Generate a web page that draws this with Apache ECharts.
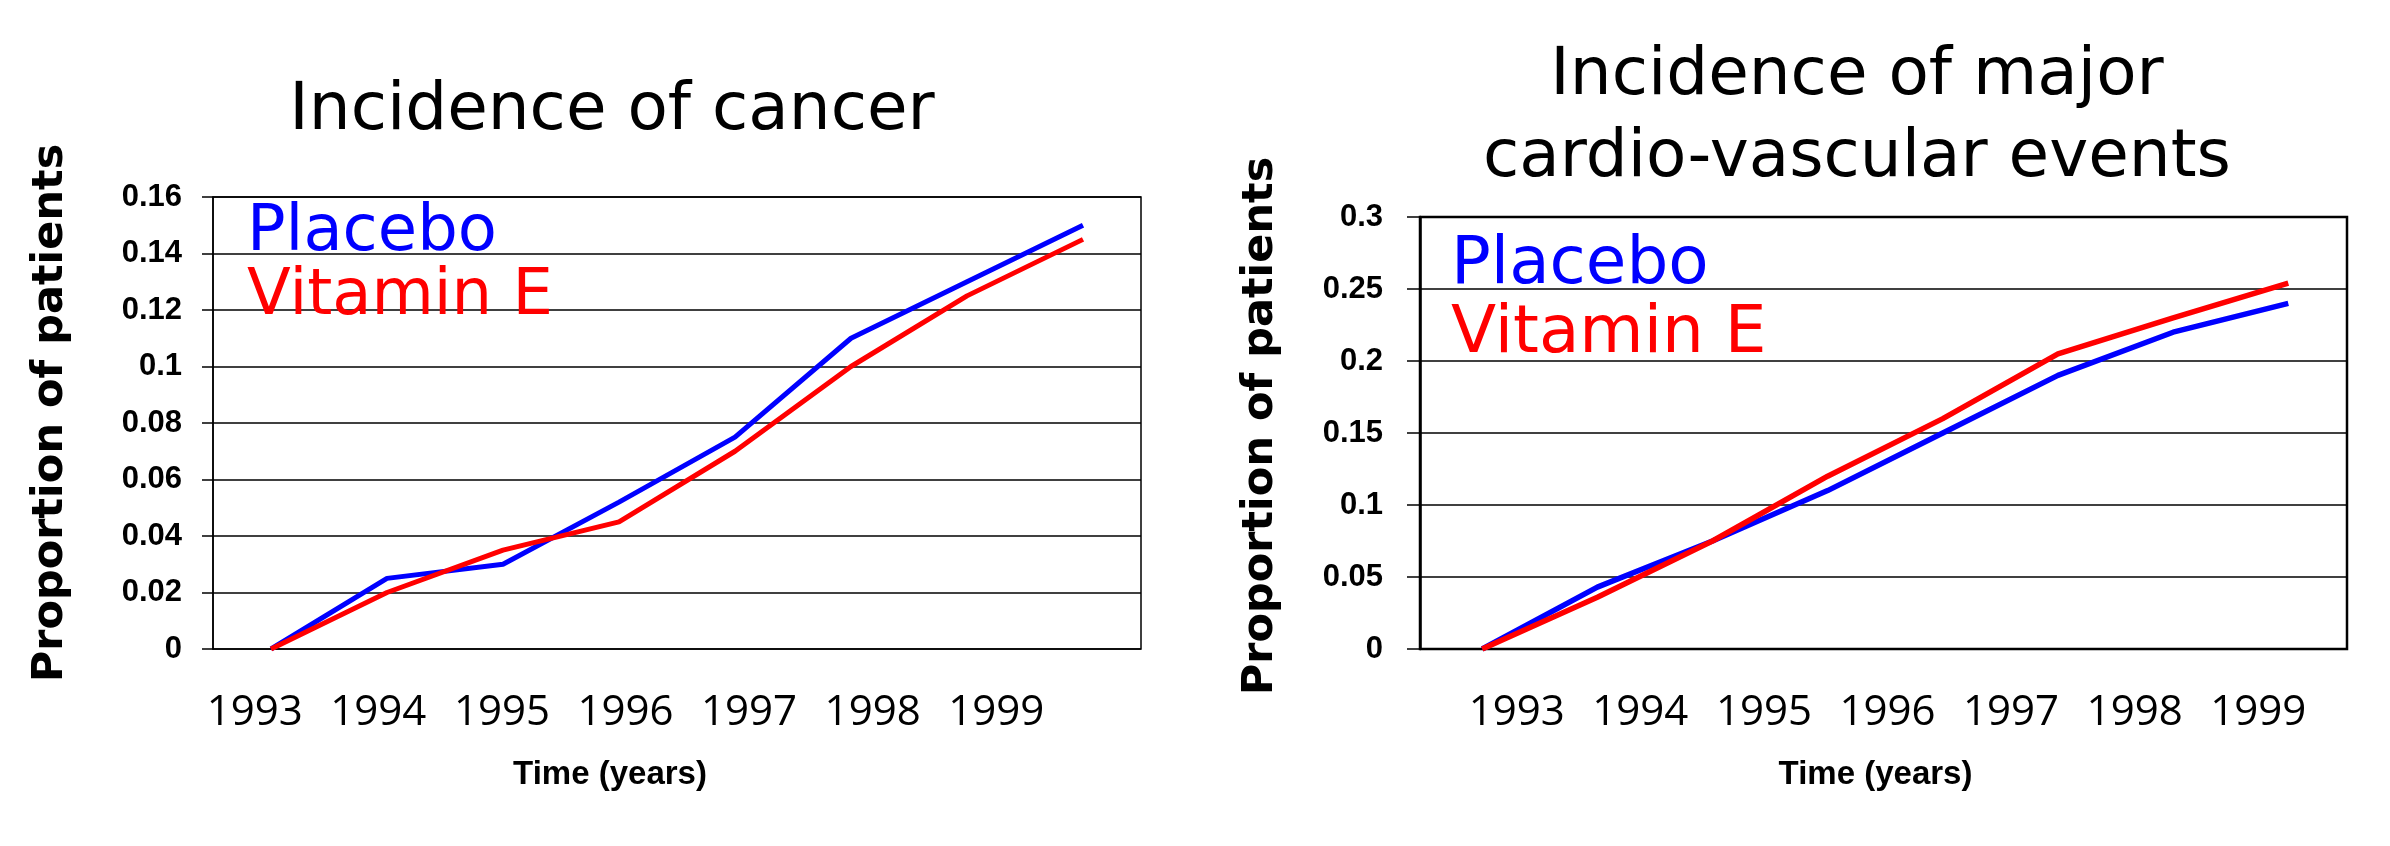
<!DOCTYPE html>
<html>
<head>
<meta charset="utf-8">
<script src="https://cdn.jsdelivr.net/npm/echarts@6/dist/echarts.min.js"></script>
<style>
  html, body { margin: 0; padding: 0; background: #ffffff; }
  #chart { width: 2390px; height: 846px; }
</style>
</head>
<body>
<div id="chart"></div>
<script>
// ---- data ----
const years = ['1993', '1994', '1995', '1996', '1997', '1998', '1999'];
const cancerPlacebo = [0, 0.025, 0.030, 0.052, 0.075, 0.110, 0.130, 0.150];
const cancerVitaminE = [0, 0.020, 0.035, 0.045, 0.070, 0.100, 0.125, 0.145];
const cvPlacebo = [0, 0.043, 0.075, 0.110, 0.150, 0.190, 0.220, 0.240];
const cvVitaminE = [0, 0.036, 0.075, 0.120, 0.160, 0.205, 0.230, 0.254];
const seriesNames = ['Placebo', 'Vitamin E'];
const titleLeft = 'Incidence of cancer';
const titleRight = 'Incidence of major\ncardio-vascular events';
const yName = 'Proportion of patients';
const xName = 'Time (years)';

const toPairs = arr => arr.map((v, i) => [i, v]);

const BLUE = '#0000ff';
const RED = '#ff0000';
const BOLD_LABEL = { fontFamily: 'Liberation Sans', fontWeight: 'bold', fontSize: 31, color: '#000' };

const chart = echarts.init(document.getElementById('chart'), null, { renderer: 'canvas' });

const option = {
  backgroundColor: '#ffffff',
  animation: false,
  title: [
    {
      text: titleLeft, left: 607, top: 67, textAlign: 'center',
      textStyle: { fontFamily: 'DejaVu Sans', fontWeight: 'normal', fontSize: 66, color: '#000', lineHeight: 80 }
    },
    {
      text: titleRight, left: 1852, top: 31, textAlign: 'center',
      textStyle: { fontFamily: 'DejaVu Sans', fontWeight: 'normal', fontSize: 66, color: '#000', lineHeight: 82 }
    }
  ],
  legend: [
    {
      left: 237, top: 196, orient: 'vertical', icon: 'none', itemWidth: 0, itemHeight: 0, itemGap: 0,
      selectedMode: false,
      data: [
        { name: seriesNames[0], textStyle: { color: BLUE } },
        { name: seriesNames[1], textStyle: { color: RED } }
      ],
      textStyle: { fontFamily: 'DejaVu Sans', fontSize: 64, lineHeight: 62, padding: 0 }
    },
    {
      left: 1441, top: 226, orient: 'vertical', icon: 'none', itemWidth: 0, itemHeight: 0, itemGap: 0,
      selectedMode: false,
      data: [
        { name: seriesNames[0], textStyle: { color: BLUE } },
        { name: seriesNames[1], textStyle: { color: RED } }
      ],
      textStyle: { fontFamily: 'DejaVu Sans', fontSize: 66, lineHeight: 69, padding: 0 }
    }
  ],
  grid: [
    { left: 213, top: 197, width: 928, height: 452, show: true, borderColor: '#000', borderWidth: 1.5, backgroundColor: 'transparent' },
    { left: 1420, top: 217, width: 927, height: 432, show: true, borderColor: '#000', borderWidth: 2.5, backgroundColor: 'transparent' },
    { left: 193, top: 600, width: 865, height: 49 },
    { left: 1455, top: 600, width: 865, height: 49 }
  ],
  xAxis: [
    { gridIndex: 0, type: 'value', min: -0.5, max: 7.5, show: false },
    { gridIndex: 1, type: 'value', min: -0.54, max: 7.51, show: false },
    {
      gridIndex: 2, type: 'category', data: years, boundaryGap: true,
      axisLine: { show: false }, axisTick: { show: false },
      axisLabel: { fontFamily: 'Open Sans', fontSize: 42, color: '#000', margin: 43, interval: 0 },
      name: xName, nameLocation: 'middle', nameGap: 109,
      nameTextStyle: { fontFamily: 'Liberation Sans', fontWeight: 'bold', fontSize: 33, color: '#000', padding: [0, 31, 0, 0] }
    },
    {
      gridIndex: 3, type: 'category', data: years, boundaryGap: true,
      axisLine: { show: false }, axisTick: { show: false },
      axisLabel: { fontFamily: 'Open Sans', fontSize: 42, color: '#000', margin: 43, interval: 0 },
      name: xName, nameLocation: 'middle', nameGap: 109,
      nameTextStyle: { fontFamily: 'Liberation Sans', fontWeight: 'bold', fontSize: 33, color: '#000', padding: [0, 24, 0, 0] }
    }
  ],
  yAxis: [
    {
      gridIndex: 0, type: 'value', min: 0, max: 0.16, interval: 0.02,
      axisLine: { show: true, onZero: false, lineStyle: { color: '#000', width: 1.5 } },
      axisTick: { show: true, inside: false, length: 11, lineStyle: { color: '#000', width: 1.5 } },
      splitLine: { show: true, lineStyle: { color: '#000', width: 1.5 } },
      axisLabel: Object.assign({ margin: 31 }, BOLD_LABEL),
      name: yName, nameLocation: 'middle', nameRotate: 90, nameGap: 141,
      nameTextStyle: { fontFamily: 'DejaVu Sans', fontWeight: 'bold', fontSize: 43, color: '#000', padding: [0, 0, 0, 20] }
    },
    {
      gridIndex: 1, type: 'value', min: 0, max: 0.3, interval: 0.05,
      axisLine: { show: true, onZero: false, lineStyle: { color: '#000', width: 2.5 } },
      axisTick: { show: true, inside: false, length: 13, lineStyle: { color: '#000', width: 1.5 } },
      splitLine: { show: true, lineStyle: { color: '#000', width: 1.5 } },
      axisLabel: Object.assign({ margin: 37 }, BOLD_LABEL),
      name: yName, nameLocation: 'middle', nameRotate: 90, nameGap: 138,
      nameTextStyle: { fontFamily: 'DejaVu Sans', fontWeight: 'bold', fontSize: 43, color: '#000', padding: [0, 0, 0, 14] }
    },
    { gridIndex: 2, type: 'value', show: false },
    { gridIndex: 3, type: 'value', show: false }
  ],
  series: [
    { name: seriesNames[0], type: 'line', xAxisIndex: 0, yAxisIndex: 0, data: toPairs(cancerPlacebo),
      symbol: 'none', lineStyle: { color: BLUE, width: 5 }, itemStyle: { color: BLUE }, z: 3 },
    { name: seriesNames[1], type: 'line', xAxisIndex: 0, yAxisIndex: 0, data: toPairs(cancerVitaminE),
      symbol: 'none', lineStyle: { color: RED, width: 5 }, itemStyle: { color: RED }, z: 4 },
    { name: seriesNames[0], type: 'line', xAxisIndex: 1, yAxisIndex: 1, data: toPairs(cvPlacebo),
      symbol: 'none', lineStyle: { color: BLUE, width: 5.5 }, itemStyle: { color: BLUE }, z: 3 },
    { name: seriesNames[1], type: 'line', xAxisIndex: 1, yAxisIndex: 1, data: toPairs(cvVitaminE),
      symbol: 'none', lineStyle: { color: RED, width: 5.5 }, itemStyle: { color: RED }, z: 4 }
  ]
};

chart.setOption(option);
</script>
</body>
</html>
